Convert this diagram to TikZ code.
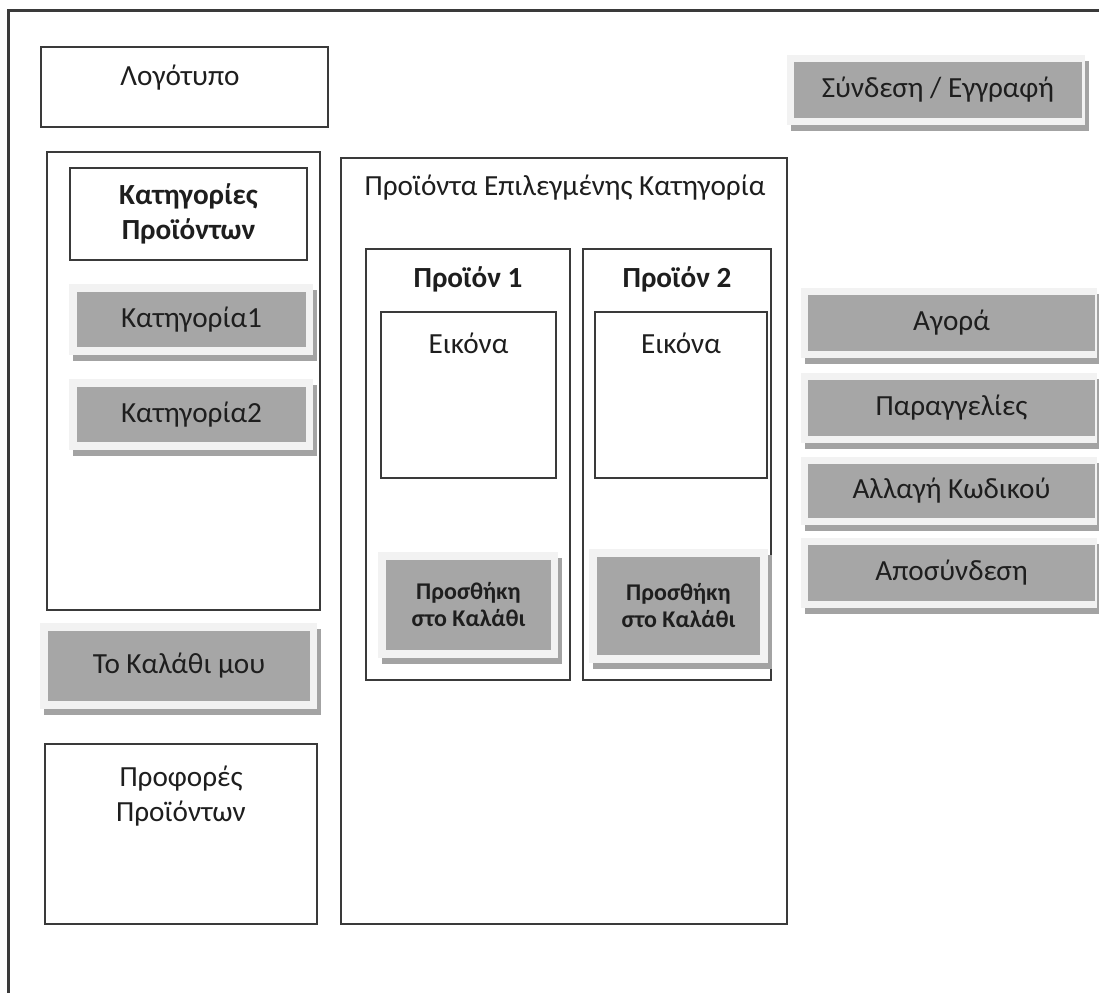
\documentclass[tikz,border=0pt]{standalone}
\usepackage{fontspec}
\setmainfont{Carlito}
\definecolor{edge}{HTML}{3A3A3A}
\definecolor{btnfill}{HTML}{A6A6A6}
\definecolor{btnrim}{HTML}{F2F2F2}
\definecolor{btnshade}{HTML}{A3A3A3}
\definecolor{ink}{HTML}{1E1E1E}
\tikzset{
  box/.style={draw=edge, line width=1.2pt, fill=white, inner sep=0pt},
  lbl/.style={text=ink, font=\fontsize{14.6}{17.5}\selectfont, align=center, inner sep=0pt},
  lblb/.style={lbl, font=\fontsize{14.6}{17.5}\selectfont\bfseries},
  small/.style={text=ink, font=\fontsize{12}{13.5}\selectfont\bfseries, align=center, inner sep=0pt},
  rim/.style={fill=btnrim},
  shade/.style={fill=btnshade},
  face/.style={fill=btnfill, inner sep=0pt}
}
% button: name, frame corners, face insets, text, text style
\newcommand{\uibutton}[9]{%
  \fill[shade] ({#2+4},{#3+6}) rectangle ({#4+4},{#5+6});
  \fill[rim] (#2,#3) rectangle (#4,#5);
  \path[face] ({#2+#6},{#3+#6}) rectangle ({#4-#7},{#5-#6}) node[pos=.5,#9] (#1) {#8};
}
\begin{document}
\begin{tikzpicture}[x=0.5pt,y=-0.5pt]
\useasboundingbox (0,0) rectangle (1099,992);
\begin{scope}
\clip (0,0) rectangle (1099,992);
% outer page frame, running off the right and bottom edges
\draw[edge, line width=1.5pt] (8,1010) -- (8,10) -- (1120,10);

% logo
\draw[box] (41,47) rectangle (328,127);
\node[lbl] (logo) at (180,78) {Λογότυπο};

% login / register
\uibutton{login}{787}{55}{1085}{125}{7}{3}{Σύνδεση / Εγγραφή}{lbl}

% category panel
\draw[box] (47,152) rectangle (320,610);
\draw[box] (70,168) rectangle (307,260);
\node[lblb] (cathead) at (188.5,214) {Κατηγορίες\\Προϊόντων};
\uibutton{cat1}{69}{284}{313}{355}{8}{7}{Κατηγορία1}{lbl}
\uibutton{cat2}{69}{379}{313}{450}{8}{7}{Κατηγορία2}{lbl}

% basket
\uibutton{basket}{40}{623}{317}{709}{8}{7}{Το Καλάθι μου}{lbl}

% offers
\draw[box] (45,744) rectangle (317,924);
\node[lbl, anchor=north] (offers) at (181,766) {Προφορές\\Προϊόντων};

% products of the chosen category
\draw[box] (341,158) rectangle (787,924);
\node[lbl] (prodhead) at (565,188) {Προϊόντα Επιλεγμένης Κατηγορία};

\draw[box] (366,249) rectangle (570,680);
\node[lblb] (p1) at (468,279) {Προϊόν 1};
\draw[box] (381,312) rectangle (556,478);
\node[lbl] (img1) at (468.5,343) {Εικόνα};
\uibutton{add1}{378}{552}{558}{658}{8}{7}{Προσθήκη\\στο Καλάθι}{small}

\draw[box] (583,249) rectangle (771,680);
\node[lblb] (p2) at (677,279) {Προϊόν 2};
\draw[box] (595,312) rectangle (767,478);
\node[lbl] (img2) at (681,343) {Εικόνα};
\uibutton{add2}{589}{549}{768}{663}{8}{8}{Προσθήκη\\στο Καλάθι}{small}

% user menu
\uibutton{buy}{801}{288}{1097}{358}{7}{2}{Αγορά}{lbl}
\uibutton{orders}{801}{373}{1097}{443}{7}{2}{Παραγγελίες}{lbl}
\uibutton{passwd}{801}{457}{1097}{525}{7}{2}{Αλλαγή Κωδικού}{lbl}
\uibutton{logout}{801}{538}{1097}{608}{7}{2}{Αποσύνδεση}{lbl}
\end{scope}
\end{tikzpicture}
\end{document}
